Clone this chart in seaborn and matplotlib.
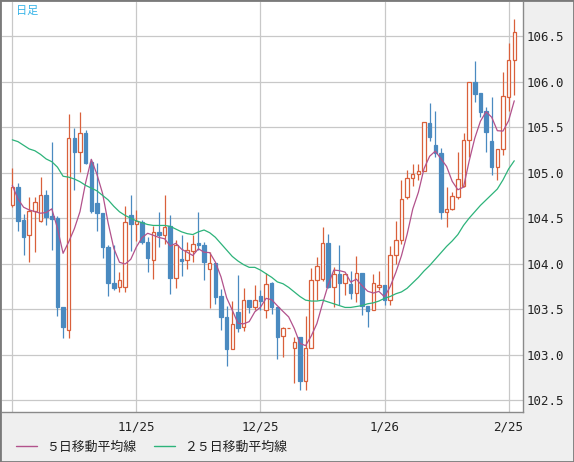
import numpy as np
import pandas as pd
import matplotlib
matplotlib.use("Agg")
import matplotlib.pyplot as plt
from matplotlib.lines import Line2D
from matplotlib.patches import Rectangle
import seaborn as sns

# --- data (USD/JPY daily, 10/26 .. 2/26) ---
opens = [104.64, 104.84, 104.48, 104.31, 104.58, 104.47, 104.75, 104.52, 104.50, 103.52,
         103.27, 105.38, 105.23, 105.43, 105.12, 104.67, 104.56, 104.18, 103.79, 103.74,
         103.74, 104.53, 104.44, 104.46, 104.24, 104.04, 104.35, 104.32, 104.41, 103.84,
         104.05, 104.04, 104.14, 104.23, 104.21, 103.94, 104.01, 103.64, 103.42, 103.06,
         103.47, 103.30, 103.60, 103.53, 103.65, 103.49, 103.79, 103.53, 103.21, 103.29,
         103.08, 103.19, 102.71, 103.07, 103.82, 103.83, 104.23, 103.74, 103.89, 103.79,
         103.78, 103.68, 103.90, 103.54, 103.49, 103.74, 103.77, 103.60, 104.10, 104.26,
         104.73, 104.94, 104.99, 105.02, 105.55, 105.30, 105.22, 104.57, 104.60, 104.73,
         104.85, 105.36, 106.00, 105.87, 105.68, 105.35, 105.06, 105.26, 105.83, 106.24]
highs = [105.05, 104.89, 104.55, 104.73, 104.73, 104.95, 104.81, 105.34, 104.52, 103.52,
         105.64, 105.49, 105.66, 105.47, 105.15, 105.11, 104.56, 104.21, 104.21, 103.91,
         104.63, 104.75, 104.59, 104.48, 104.29, 104.41, 104.57, 104.75, 104.53, 104.26,
         104.31, 104.24, 104.31, 104.57, 104.24, 104.13, 104.01, 103.72, 103.54, 103.59,
         103.88, 103.73, 103.60, 103.77, 103.71, 103.90, 103.80, 103.53, 103.30, 103.29,
         103.19, 103.19, 103.43, 103.95, 104.07, 104.40, 104.33, 103.96, 104.21, 103.89,
         103.92, 104.08, 103.90, 103.54, 103.89, 103.92, 103.77, 104.19, 104.47, 104.92,
         105.03, 105.10, 105.10, 105.56, 105.76, 105.68, 105.27, 104.84, 104.79, 105.23,
         105.43, 106.00, 106.22, 105.87, 105.72, 105.83, 105.26, 106.11, 106.42, 106.69]
lows = [104.62, 104.36, 104.10, 104.02, 104.13, 104.46, 104.43, 104.15, 103.43, 103.18,
        103.18, 104.81, 105.01, 105.10, 104.56, 104.36, 104.06, 103.64, 103.71, 103.69,
        103.69, 104.14, 104.25, 104.22, 103.91, 103.83, 104.18, 104.22, 103.67, 103.73,
        103.87, 103.94, 104.02, 104.15, 103.82, 103.51, 103.56, 103.27, 102.88, 103.06,
        103.25, 103.26, 103.46, 103.49, 103.49, 103.40, 103.45, 102.95, 102.98, 103.29,
        102.69, 102.61, 102.61, 103.07, 103.60, 103.81, 103.73, 103.52, 103.55, 103.66,
        103.61, 103.58, 103.44, 103.31, 103.49, 103.71, 103.55, 103.55, 104.00, 104.22,
        104.71, 104.85, 104.92, 105.02, 105.35, 105.17, 104.49, 104.40, 104.59, 104.71,
        104.84, 105.17, 105.78, 105.61, 105.23, 104.97, 104.92, 105.19, 105.68, 105.85]
closes = [104.84, 104.47, 104.29, 104.58, 104.68, 104.75, 104.51, 104.49, 103.52, 103.30,
          105.38, 105.23, 105.43, 105.11, 104.58, 104.56, 104.18, 103.79, 103.73, 103.82,
          104.46, 104.44, 104.47, 104.24, 104.06, 104.35, 104.32, 104.40, 103.84, 104.21,
          104.03, 104.15, 104.22, 104.21, 104.02, 104.01, 103.63, 103.41, 103.06, 103.34,
          103.29, 103.60, 103.53, 103.60, 103.59, 103.78, 103.52, 103.20, 103.29, 103.29,
          103.14, 102.71, 103.07, 103.82, 103.97, 104.23, 103.74, 103.89, 103.79, 103.89,
          103.68, 103.90, 103.54, 103.48, 103.79, 103.77, 103.60, 104.10, 104.26, 104.71,
          104.94, 104.99, 105.02, 105.56, 105.39, 105.22, 104.57, 104.60, 104.74, 104.93,
          105.36, 106.00, 105.86, 105.67, 105.45, 105.06, 105.26, 105.84, 106.24, 106.54]

# 25-day moving average
ma25 = [105.36, 105.34, 105.30, 105.26, 105.24, 105.20, 105.15, 105.12, 105.06, 104.96,
        104.95, 104.93, 104.90, 104.86, 104.83, 104.80, 104.75, 104.70, 104.63, 104.57,
        104.53, 104.50, 104.47, 104.45, 104.43, 104.42, 104.42, 104.42, 104.41, 104.38,
        104.35, 104.33, 104.32, 104.35, 104.37, 104.34, 104.29, 104.22, 104.15, 104.08,
        104.03, 103.99, 103.96, 103.96, 103.93, 103.89, 103.85, 103.80, 103.78, 103.74,
        103.69, 103.64, 103.60, 103.59, 103.59, 103.60, 103.58, 103.56, 103.54, 103.52,
        103.52, 103.53, 103.54, 103.56, 103.57, 103.59, 103.62, 103.64, 103.67, 103.69,
        103.73, 103.79, 103.85, 103.92, 103.98, 104.05, 104.12, 104.19, 104.25, 104.32,
        104.42, 104.50, 104.57, 104.64, 104.70, 104.76, 104.82, 104.92, 105.04, 105.13]
# first 4 points of the 5-day average (they depend on days before the window)
ma5_start = [104.86, 104.71, 104.62, 104.59]

tick_pos = [0, 22, 44, 66, 88]
tick_dates = ['10/26', '11/25', '12/25', '1/26', '2/25']
price_ticks = [102.5, 103.0, 103.5, 104.0, 104.5, 105.0, 105.5, 106.0, 106.5]

UP = '#d9603b'
DOWN = '#4a8ac0'
C_MA5 = '#b2528c'
C_MA25 = '#2db37a'

df = pd.DataFrame({'open': opens, 'high': highs, 'low': lows, 'close': closes,
                   'ma25': ma25})
df['day'] = np.arange(len(df))
df['ma5'] = df['close'].rolling(5).mean()
df.loc[:3, 'ma5'] = ma5_start
df['up'] = df['close'] >= df['open']

sns.set_style('white')
plt.rcParams['font.family'] = ['DejaVu Sans Mono']

W, H = 574, 462
fig = plt.figure(figsize=(W / 100, H / 100), dpi=100, facecolor='#efefef')
ax = fig.add_axes([2 / W, 50 / H, 521 / W, 410 / H])
ax.set_facecolor('white')

# wicks, then bodies on top
wick_col = np.where(df['up'], UP, DOWN)
ax.vlines(df['day'], df['low'], df['high'], colors=wick_col, lw=0.9, zorder=2)
body_lo = df[['open', 'close']].min(axis=1)
body_h = (df['close'] - df['open']).abs()
up = df[df['up']]
dn = df[~df['up']]
ax.bar(up['day'], body_h[df['up']], bottom=body_lo[df['up']], width=0.62,
       facecolor='white', edgecolor=UP, linewidth=0.9, zorder=3)
ax.bar(dn['day'], body_h[~df['up']], bottom=body_lo[~df['up']], width=0.62,
       facecolor=DOWN, edgecolor=DOWN, linewidth=0.9, zorder=3)

sns.lineplot(data=df, x='day', y='ma5', ax=ax, color=C_MA5, lw=0.9, zorder=4,
             label='５日移動平均線', legend=False)
sns.lineplot(data=df, x='day', y='ma25', ax=ax, color=C_MA25, lw=0.9, zorder=4,
             label='２５日移動平均線', legend=False)

ax.set_xlim(-1.83, 90.55)
ax.set_ylim(102.372, 106.873)
ax.set_xticks(tick_pos)
ax.set_xticklabels(tick_dates)
ax.get_xticklabels()[0].set_visible(False)
ax.set_yticks(price_ticks)
ax.set_yticklabels([f'{v:.1f}' for v in price_ticks])
ax.yaxis.tick_right()
ax.tick_params(axis='both', length=0, labelsize=9, colors='#222222')
ax.tick_params(axis='x', pad=6)
ax.tick_params(axis='y', pad=2.5)
ax.set_xlabel('')
ax.set_ylabel('')
ax.grid(True, color='#c8c8c8', lw=0.9)
ax.set_axisbelow(True)
for side in ['left', 'top']:
    ax.spines[side].set_visible(False)
for side in ['right', 'bottom']:
    ax.spines[side].set_color('#8a8a8a')
    ax.spines[side].set_linewidth(1.0)

# "daily" caption top-left
fig.text(16 / W, 1 - 5.5 / H, '日足', color='#35b3e8', fontsize=8,
         family=['Noto Sans CJK JP', 'DejaVu Sans'], va='top', ha='left')

# legend under the chart
handles = [Line2D([], [], color=C_MA5, lw=1.0), Line2D([], [], color=C_MA25, lw=1.0)]
fig.legend(handles, ['５日移動平均線', '２５日移動平均線'], loc='center left',
           bbox_to_anchor=(16 / W, 1 - 447 / H), ncol=2, frameon=False,
           borderpad=0, borderaxespad=0, handlelength=1.6, handletextpad=0.7,
           columnspacing=1.4, prop={'family': 'Noto Sans CJK JP', 'size': 9.3},
           labelcolor='#222222')

# outer frame of the picture
fig.add_artist(Rectangle((0, 0), 1, 1, transform=fig.transFigure, fill=False,
                         edgecolor='#7a7a7a', lw=2.0))

fig.savefig('out.png', dpi=100, facecolor=fig.get_facecolor())
